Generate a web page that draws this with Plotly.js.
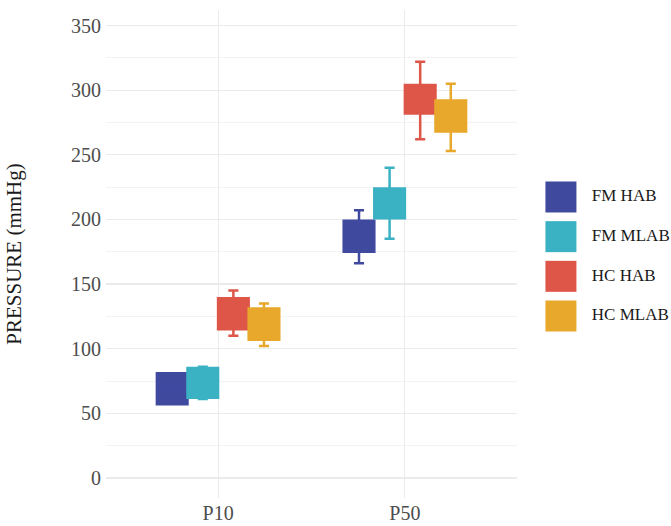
<!DOCTYPE html>
<html>
<head>
<meta charset="utf-8">
<script src="https://cdn.plot.ly/plotly-3.0.1.min.js"></script>
<style>html,body{margin:0;padding:0;background:#fff;}</style>
</head>
<body>
<div id="chart" style="width:671px;height:526px;"></div>
<script>
// ---- data ----
var categories = ['P10', 'P50'];
var groups = ['FM HAB', 'FM MLAB', 'HC HAB', 'HC MLAB'];
var colors = ['#3F4A9F', '#3BB2C3', '#DD5647', '#E8A82C'];

var fmHabLow   = [57, 166];
var fmHabQ1    = [57, 175];
var fmHabMed   = [68, 187];
var fmHabQ3    = [81, 199];
var fmHabHigh  = [81, 207];

var fmMlabLow  = [61, 185];
var fmMlabQ1   = [62, 201];
var fmMlabMed  = [73, 212];
var fmMlabQ3   = [85, 224];
var fmMlabHigh = [86, 240];

var hcHabLow   = [110, 262];
var hcHabQ1    = [115, 282];
var hcHabMed   = [127, 293];
var hcHabQ3    = [139, 304];
var hcHabHigh  = [145, 322];

var hcMlabLow  = [102, 253];
var hcMlabQ1   = [107, 268];
var hcMlabMed  = [119, 280];
var hcMlabQ3   = [131, 292];
var hcMlabHigh = [135, 305];

var stats = [
  [fmHabLow, fmHabQ1, fmHabMed, fmHabQ3, fmHabHigh],
  [fmMlabLow, fmMlabQ1, fmMlabMed, fmMlabQ3, fmMlabHigh],
  [hcHabLow, hcHabQ1, hcHabMed, hcHabQ3, hcHabHigh],
  [hcMlabLow, hcMlabQ1, hcMlabMed, hcMlabQ3, hcMlabHigh]
];

var FONT = 'Liberation Serif, Times New Roman, serif';
var traces = [];
groups.forEach(function (g, i) {
  var s = stats[i];
  traces.push({
    type: 'box', name: g, x: categories,
    lowerfence: s[0], q1: s[1], median: s[2], q3: s[3], upperfence: s[4],
    fillcolor: colors[i], line: {color: colors[i], width: 2.5},
    whiskerwidth: 0.33, showlegend: false, hoverinfo: 'skip'
  });
});
// legend drawn on its own small axis
var legendIdx = groups.map(function (g, i) { return i; });
traces.push({
  type: 'scatter', mode: 'markers', xaxis: 'x2', yaxis: 'y2',
  x: groups.map(function () { return 16; }), y: legendIdx,
  marker: {symbol: 'square', size: 31, color: colors, line: {width: 0}},
  cliponaxis: false, showlegend: false, hoverinfo: 'skip'
});
traces.push({
  type: 'scatter', mode: 'text', xaxis: 'x2', yaxis: 'y2',
  x: groups.map(function () { return 47; }), y: legendIdx,
  text: groups, textposition: 'middle right',
  textfont: {family: FONT, size: 17, color: '#1a1a1a'},
  cliponaxis: false, showlegend: false, hoverinfo: 'skip'
});

var layout = {
  width: 671, height: 526,
  margin: {l: 106, r: 10, t: 10, b: 28},
  paper_bgcolor: '#ffffff', plot_bgcolor: '#ffffff',
  font: {family: FONT, size: 20, color: '#4d4d4d'},
  showlegend: false,
  boxmode: 'group', boxgap: 0.345, boxgroupgap: 0,
  xaxis: {
    domain: [0, 0.7405], type: 'category',
    range: [-0.6, 1.6],
    showgrid: true, gridcolor: '#EBEBEB', gridwidth: 1,
    zeroline: false, showline: false, ticks: '',
    ticklabelstandoff: 1,
    tickfont: {family: FONT, size: 20, color: '#4d4d4d'}
  },
  yaxis: {
    range: [-15.5, 362],
    tickvals: [0, 50, 100, 150, 200, 250, 300, 350],
    showgrid: true, gridcolor: '#EBEBEB', gridwidth: 1.2,
    minor: {tickvals: [25, 75, 125, 175, 225, 275, 325], showgrid: true, gridcolor: '#F3F3F3', gridwidth: 1},
    zeroline: false, showline: false, ticks: '',
    ticklabelstandoff: 4,
    tickfont: {family: FONT, size: 20, color: '#4d4d4d'},
    title: {text: 'PRESSURE (mmHg)', standoff: 43, font: {family: FONT, size: 21, color: '#1a1a1a'}}
  },
  xaxis2: {
    domain: [0.791, 1], range: [0, 116.5], anchor: 'y2',
    visible: false, fixedrange: true
  },
  yaxis2: {
    domain: [0.3323, 0.6575], range: [3.5, -0.5], anchor: 'x2',
    visible: false, fixedrange: true
  }
};

Plotly.newPlot('chart', traces, layout, {staticPlot: true});
</script>
</body>
</html>
